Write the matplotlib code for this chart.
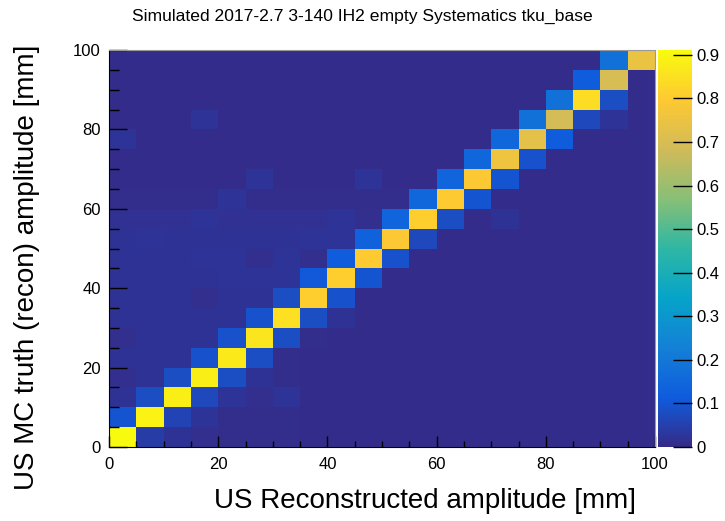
import numpy as np
import matplotlib
matplotlib.use("Agg")
import matplotlib.pyplot as plt
from matplotlib.colors import LinearSegmentedColormap
from matplotlib.ticker import MultipleLocator, FixedLocator

plt.rcParams['font.family'] = ['Liberation Sans', 'DejaVu Sans']

# bin edges (mm)
xedges = np.arange(0, 105, 5)
yedges = np.arange(0, 105, 5)

# rows = truth bins (bottom to top), columns = reconstructed bins (left to right)
row00 = [0.911, 0.040, 0.020, 0.012, 0.008, 0.008, 0.008, 0.006, 0.006, 0.005, 0.005, 0.005, 0.005, 0.005, 0.005, 0.005, 0.005, 0.005, 0.005, 0.005]
row01 = [0.100, 0.890, 0.060, 0.022, 0.008, 0.008, 0.008, 0.006, 0.006, 0.005, 0.005, 0.005, 0.005, 0.005, 0.005, 0.005, 0.005, 0.005, 0.005, 0.005]
row02 = [0.020, 0.080, 0.880, 0.070, 0.022, 0.012, 0.022, 0.006, 0.006, 0.005, 0.005, 0.005, 0.005, 0.005, 0.005, 0.005, 0.005, 0.005, 0.005, 0.005]
row03 = [0.012, 0.020, 0.080, 0.880, 0.080, 0.020, 0.008, 0.006, 0.006, 0.005, 0.005, 0.005, 0.005, 0.005, 0.005, 0.005, 0.005, 0.005, 0.005, 0.005]
row04 = [0.020, 0.020, 0.020, 0.090, 0.870, 0.080, 0.008, 0.006, 0.006, 0.005, 0.005, 0.005, 0.005, 0.005, 0.005, 0.005, 0.005, 0.005, 0.005, 0.005]
row05 = [0.012, 0.020, 0.020, 0.020, 0.090, 0.860, 0.080, 0.008, 0.006, 0.005, 0.005, 0.005, 0.005, 0.005, 0.005, 0.005, 0.005, 0.005, 0.005, 0.005]
row06 = [0.020, 0.020, 0.020, 0.020, 0.020, 0.090, 0.850, 0.080, 0.020, 0.006, 0.005, 0.005, 0.005, 0.005, 0.005, 0.005, 0.005, 0.005, 0.005, 0.005]
row07 = [0.020, 0.020, 0.020, 0.012, 0.020, 0.020, 0.080, 0.810, 0.090, 0.006, 0.005, 0.005, 0.005, 0.005, 0.005, 0.005, 0.005, 0.005, 0.005, 0.005]
row08 = [0.018, 0.018, 0.018, 0.018, 0.022, 0.022, 0.022, 0.110, 0.810, 0.100, 0.006, 0.005, 0.005, 0.005, 0.005, 0.005, 0.005, 0.005, 0.005, 0.005]
row09 = [0.018, 0.018, 0.018, 0.022, 0.022, 0.012, 0.022, 0.012, 0.120, 0.800, 0.090, 0.006, 0.005, 0.005, 0.005, 0.005, 0.005, 0.005, 0.005, 0.005]
row10 = [0.018, 0.025, 0.018, 0.018, 0.018, 0.018, 0.018, 0.022, 0.022, 0.130, 0.790, 0.070, 0.006, 0.005, 0.005, 0.005, 0.005, 0.005, 0.005, 0.005]
row11 = [0.015, 0.015, 0.015, 0.022, 0.015, 0.015, 0.015, 0.015, 0.022, 0.012, 0.140, 0.810, 0.080, 0.006, 0.020, 0.005, 0.005, 0.005, 0.005, 0.005]
row12 = [0.010, 0.010, 0.010, 0.010, 0.022, 0.010, 0.010, 0.010, 0.010, 0.010, 0.010, 0.150, 0.800, 0.100, 0.005, 0.005, 0.005, 0.005, 0.005, 0.005]
row13 = [0.006, 0.006, 0.006, 0.006, 0.006, 0.022, 0.006, 0.006, 0.006, 0.022, 0.006, 0.006, 0.140, 0.790, 0.100, 0.005, 0.005, 0.005, 0.005, 0.005]
row14 = [0.005, 0.005, 0.005, 0.005, 0.005, 0.005, 0.005, 0.005, 0.005, 0.005, 0.005, 0.005, 0.005, 0.150, 0.760, 0.090, 0.005, 0.005, 0.005, 0.005]
row15 = [0.022, 0.005, 0.005, 0.005, 0.005, 0.005, 0.005, 0.005, 0.005, 0.005, 0.005, 0.005, 0.005, 0.005, 0.150, 0.730, 0.120, 0.005, 0.005, 0.005]
row16 = [0.005, 0.005, 0.005, 0.022, 0.005, 0.005, 0.005, 0.005, 0.005, 0.005, 0.005, 0.005, 0.005, 0.005, 0.005, 0.180, 0.690, 0.070, 0.025, 0.005]
row17 = [0.005, 0.005, 0.005, 0.005, 0.005, 0.005, 0.005, 0.005, 0.005, 0.005, 0.005, 0.005, 0.005, 0.005, 0.005, 0.005, 0.180, 0.840, 0.080, 0.005]
row18 = [0.005, 0.005, 0.005, 0.005, 0.005, 0.005, 0.005, 0.005, 0.005, 0.005, 0.005, 0.005, 0.005, 0.005, 0.005, 0.005, 0.005, 0.120, 0.700, 0.005]
row19 = [0.005, 0.005, 0.005, 0.005, 0.005, 0.005, 0.005, 0.005, 0.005, 0.005, 0.005, 0.005, 0.005, 0.005, 0.005, 0.005, 0.005, 0.005, 0.180, 0.750]

z = np.array([row00, row01, row02, row03, row04, row05, row06, row07, row08, row09,
              row10, row11, row12, row13, row14, row15, row16, row17, row18, row19])

cbar_ticks = [0, 0.1, 0.2, 0.3, 0.4, 0.5, 0.6, 0.7, 0.8, 0.9]
cbar_labels = ["0", "0.1", "0.2", "0.3", "0.4", "0.5", "0.6", "0.7", "0.8", "0.9"]

# ROOT kBird palette
stops = [0.0, 0.125, 0.25, 0.375, 0.5, 0.625, 0.75, 0.875, 1.0]
red = [0.2082, 0.0592, 0.0780, 0.0232, 0.1802, 0.5301, 0.8186, 0.9956, 0.9764]
green = [0.1664, 0.3599, 0.5041, 0.6419, 0.7178, 0.7492, 0.7328, 0.7862, 0.9832]
blue = [0.5293, 0.8684, 0.8385, 0.7914, 0.6425, 0.4662, 0.3499, 0.1968, 0.0539]
bird = LinearSegmentedColormap.from_list("bird", list(zip(stops, zip(red, green, blue))), N=255)

W, H = 725, 521
fig = plt.figure(figsize=(W / 100, H / 100), dpi=100)

x0, x1, y0, y1 = 109, 655, 50, 447
ax = fig.add_axes([x0 / W, 1 - y1 / H, (x1 - x0) / W, (y1 - y0) / H])
vmax = z.max()
mesh = ax.pcolormesh(xedges, yedges, z, cmap=bird, vmin=0, vmax=vmax)
ax.set_xlim(0, 100)
ax.set_ylim(0, 100)

ax.xaxis.set_major_locator(MultipleLocator(20))
ax.xaxis.set_minor_locator(MultipleLocator(5))
ax.yaxis.set_major_locator(MultipleLocator(20))
ax.yaxis.set_minor_locator(MultipleLocator(5))
ax.tick_params(axis='x', which='major', direction='in', length=8, width=1, labelsize=12, pad=7)
ax.tick_params(axis='x', which='minor', direction='in', length=4, width=1)
ax.tick_params(axis='y', which='major', direction='in', length=13, width=1, labelsize=12, pad=6)
ax.tick_params(axis='y', which='minor', direction='in', length=7, width=1)
for s in ['top', 'right']:
    ax.spines[s].set_color('#999999')

cax = fig.add_axes([658 / W, 1 - y1 / H, 34 / W, (y1 - y0) / H])
cb = fig.colorbar(mesh, cax=cax)
cb.outline.set_visible(False)
cax.yaxis.set_major_locator(FixedLocator(cbar_ticks))
cax.set_yticklabels(cbar_labels)
cax.tick_params(axis='y', which='major', direction='in', length=13.5, width=1, labelsize=12, pad=3, right=True, left=False)
cax.minorticks_off()

fig.text(0.5, 1 - 16 / H, "Simulated 2017-2.7 3-140 IH2 empty Systematics tku_base",
         ha='center', va='center', fontsize=12.6)
fig.text(636 / W, 1 - 508 / H, "US Reconstructed amplitude [mm]",
         ha='right', va='baseline', fontsize=20)
fig.text(40 / W, 1 - 45 / H, "US MC truth (recon) amplitude [mm]",
         ha='right', va='top', rotation=90, fontsize=20)

fig.savefig("out.png", dpi=100)
